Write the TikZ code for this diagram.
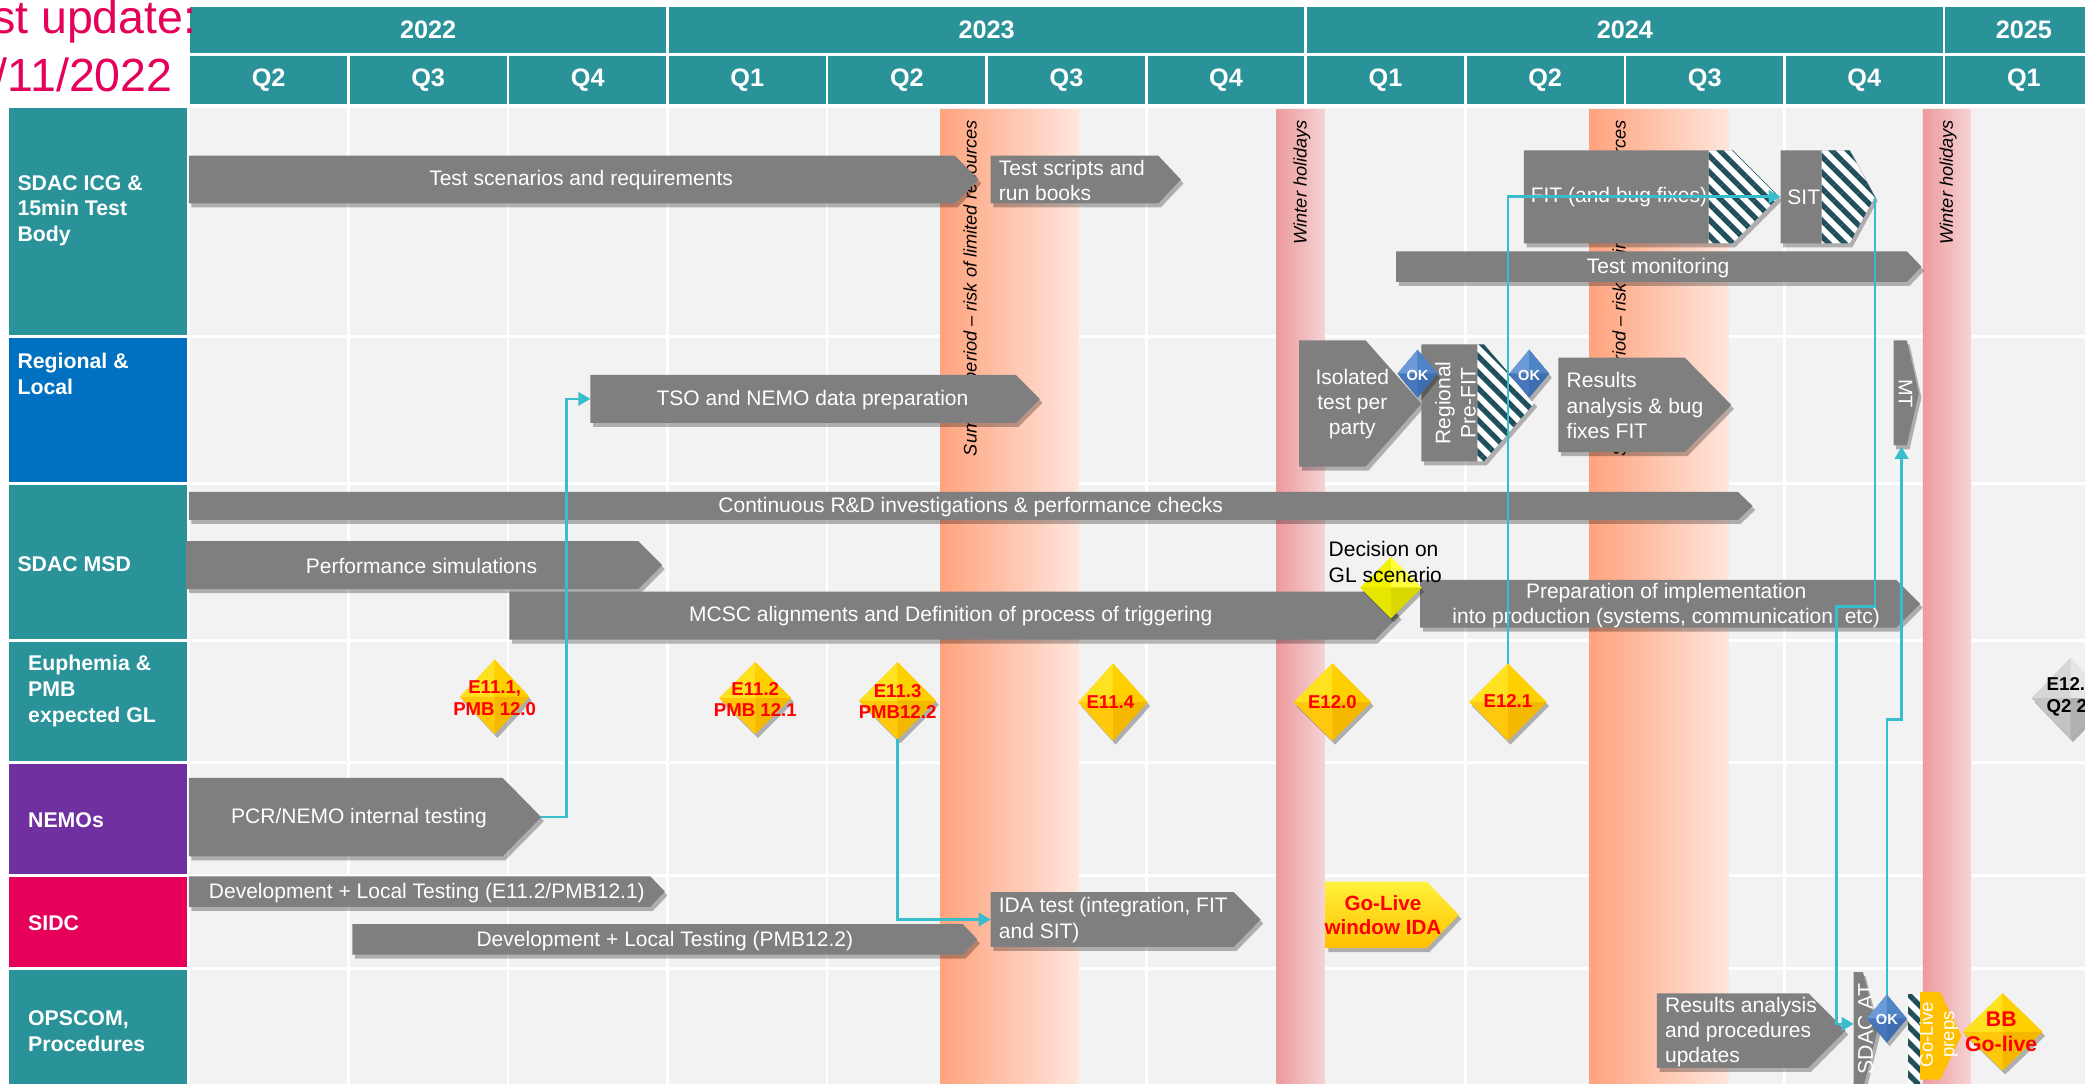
\documentclass[tikz,border=0pt]{standalone}
\usepackage{fontspec}
\setmainfont{Liberation Sans}
\usetikzlibrary{shadows,patterns.meta,arrows.meta}
\definecolor{hdrteal}{HTML}{2A9299}
\definecolor{regblue}{HTML}{0070C0}
\definecolor{nemopurple}{HTML}{7030A0}
\definecolor{sidcpink}{HTML}{E5005A}
\definecolor{titlepink}{HTML}{E5005A}
\definecolor{barg}{HTML}{7F7F7F}
\definecolor{cellg}{HTML}{F2F2F2}
\definecolor{cyanl}{HTML}{38BDCC}
\definecolor{hatchc}{HTML}{1E4F5B}
\definecolor{sumL}{HTML}{FFA37D}
\definecolor{sumR}{HTML}{FFE6DD}
\definecolor{winL}{HTML}{EC9A9D}
\definecolor{winR}{HTML}{F5D3D4}
\definecolor{goldTL}{HTML}{FFE21F}
\definecolor{goldTR}{HTML}{FFD000}
\definecolor{goldBR}{HTML}{F5B800}
\definecolor{goldBL}{HTML}{FFC80A}
\definecolor{blueTL}{HTML}{6A9BD8}
\definecolor{blueTR}{HTML}{4F84C6}
\definecolor{blueBR}{HTML}{3E6DB0}
\definecolor{blueBL}{HTML}{4777BA}
\definecolor{decTL}{HTML}{F2F200}
\definecolor{decTR}{HTML}{FFFF40}
\definecolor{decBR}{HTML}{D9D900}
\definecolor{decBL}{HTML}{E6E600}
\definecolor{grayTL}{HTML}{D6D6D6}
\definecolor{grayTR}{HTML}{E6E6E6}
\definecolor{grayBR}{HTML}{B0B0B0}
\definecolor{grayBL}{HTML}{C4C4C4}
\definecolor{glA}{HTML}{FFF23A}
\definecolor{glB}{HTML}{FFE000}
\definecolor{glC}{HTML}{FFC000}
\definecolor{prepsc}{HTML}{FFC000}

\tikzset{
  bshadow/.style={drop shadow={opacity=0.28,shadow xshift=2pt,shadow yshift=-3pt,fill=black}},
  barfill/.style={fill=barg,bshadow},
  bartext/.style={text=white,font=\fontsize{15.8}{19}\selectfont,inner sep=0pt},
  lbl/.style={text=white,font=\bfseries\fontsize{16}{19.5}\selectfont,align=left,inner sep=0pt,anchor=west},
  hdr/.style={text=white,font=\bfseries\fontsize{19}{22}\selectfont,inner sep=0pt},
  redtext/.style={text=red,font=\bfseries\fontsize{14}{16}\selectfont,align=center,inner sep=0pt},
  oktext/.style={text=white,font=\bfseries\fontsize{11}{12}\selectfont,inner sep=0pt},
  bandtext/.style={font=\itshape\fontsize{13.7}{15}\selectfont,inner sep=0pt,rotate=90,anchor=east},
  conn/.style={draw=cyanl,line width=2pt,-{Triangle[length=9pt,width=10pt]}},
  hatchfill/.style={preaction={fill=white},pattern={Lines[angle=-45,distance=8.5pt,line width=4pt]},pattern color=hatchc},
}

% bar: name, x1, xtip, y1, y2, tip length
\newcommand\gbar[6]{%
  \fill[barfill] (#2,#4) -- ({#3-#6},#4) -- (#3,{(#4+#5)/2}) -- ({#3-#6},#5) -- (#2,#5) -- cycle;
  \coordinate (#1-w) at (#2,{(#4+#5)/2});
  \coordinate (#1-e) at (#3,{(#4+#5)/2});}

% gem: name, cx, cy, hw, hh, colour prefix
\newcommand\gem[6]{%
  \fill[#6BL,bshadow] ({#2-#4},#3) -- (#2,{#3-#5}) -- ({#2+#4},#3) -- (#2,{#3+#5}) -- cycle;
  \fill[#6TL] (#2,#3) -- ({#2-#4},#3) -- (#2,{#3-#5}) -- cycle;
  \fill[#6TR] (#2,#3) -- (#2,{#3-#5}) -- ({#2+#4},#3) -- cycle;
  \fill[#6BR] (#2,#3) -- ({#2+#4},#3) -- (#2,{#3+#5}) -- cycle;
  \fill[#6BL] (#2,#3) -- (#2,{#3+#5}) -- ({#2-#4},#3) -- cycle;
  \coordinate (#1-n) at (#2,{#3-#5});
  \coordinate (#1-s) at (#2,{#3+#5});}

\begin{document}
\begin{tikzpicture}[x=1pt,y=-1pt]
\useasboundingbox (0,0) rectangle (1568,815.2);
\clip (0,0) rectangle (1568,815.2);
\fill[white] (0,0) rectangle (1568,815.2);

% ---------- header ----------
\fill[hdrteal] (143,5) rectangle (501,40);
\fill[hdrteal] (503,5) rectangle (981,40);
\fill[hdrteal] (983,5) rectangle (1461,40);
\fill[hdrteal] (1463,5) rectangle (1600,40);
\node[hdr] (y2022) at (322,22.5) {2022};
\node[hdr] (y2023) at (742,22.5) {2023};
\node[hdr] (y2024) at (1222,22.5) {2024};
\node[hdr] (y2025) at (1522,22.5) {2025};
\foreach \q [count=\i from 0] in {Q2,Q3,Q4,Q1,Q2,Q3,Q4,Q1,Q2,Q3,Q4,Q1}{
  \fill[hdrteal] ({143+120*\i},42) rectangle ({261+120*\i},78);
  \node[hdr] (q\i) at ({202+120*\i},60.5) {\q};
}

% ---------- row labels ----------
\fill[hdrteal] (7,81) rectangle (141,252);
\fill[regblue] (7,254) rectangle (141,362.5);
\fill[hdrteal] (7,364.5) rectangle (141,480.5);
\fill[hdrteal] (7,482.5) rectangle (141,572.5);
\fill[nemopurple] (7,574.5) rectangle (141,657.5);
\fill[sidcpink] (7,659.5) rectangle (141,727.5);
\fill[hdrteal] (7,729.5) rectangle (141,815.2);
\node[lbl] (lab1) at (13,158.5) {SDAC ICG \&\\15min Test\\Body};
\node[lbl] (lab2) at (13,281.5) {Regional \&\\Local};
\node[lbl] (lab3) at (13,424) {SDAC MSD};
\node[lbl] (lab4) at (21,519.5) {Euphemia \&\\PMB\\expected GL};
\node[lbl] (lab5) at (21,617) {NEMOs};
\node[lbl] (lab6) at (21,694) {SIDC};
\node[lbl] (lab7) at (21,775.5) {OPSCOM,\\Procedures};

% ---------- grid ----------
\fill[cellg] (143,81) rectangle (1600,815.2);
\foreach \k in {0,...,10}{
  \draw[white,line width=2pt] ({262+120*\k},81) -- ({262+120*\k},815.2);
}
\foreach \yy in {253,363.5,481.5,573.5,658.5,728.5}{
  \draw[white,line width=2pt] (143,\yy) -- (1600,\yy);
}

% ---------- bands ----------
\shade[left color=sumL,right color=sumR] (707,82) rectangle (811,815.2);
\shade[left color=winL,right color=winR] (960,82) rectangle (996,815.2);
\shade[left color=sumL,right color=sumR] (1195,82) rectangle (1300,815.2);
\shade[left color=winL,right color=winR] (1446,82) rectangle (1482,815.2);
\node[bandtext] (sum1) at (731,90) {Summer period – risk of limited resources};
\node[bandtext] (win1) at (979,90) {Winter holidays};
\node[bandtext] (sum2) at (1219,90) {Summer period – risk of limited resources};
\node[bandtext] (win2) at (1465,90) {Winter holidays};

% ---------- row 1 ----------
\gbar{tsr}{142}{736}{117}{153}{18}
\node[bartext] (t-tsr) at (437,135.5) {Test scenarios and requirements};
\gbar{tsb}{745}{888}{117}{153}{17}
\node[bartext,anchor=west,align=left] (t-tsb) at (751,136) {Test scripts and\\run books};
\fill[barfill] (1146,113) -- (1303,113) -- (1338,148) -- (1303,183) -- (1146,183) -- cycle;
\fill[hatchfill] (1285,113) -- (1303,113) -- (1338,148) -- (1303,183) -- (1285,183) -- cycle;
\node[bartext,anchor=west] (t-fit) at (1151,148.5) {FIT (and bug fixes)};
\fill[barfill] (1339,113) -- (1391,113) -- (1410,148) -- (1391,183) -- (1339,183) -- cycle;
\fill[hatchfill] (1370,113) -- (1391,113) -- (1410,148) -- (1391,183) -- (1370,183) -- cycle;
\coordinate (sit-w) at (1339,148);
\coordinate (sit-e) at (1410,148);
\node[bartext,anchor=west] (t-sit) at (1344,148) {SIT};
\gbar{tmon}{1050}{1445}{189}{212}{11}
\node[bartext] (t-tmon) at (1247,201.5) {Test monitoring};

% ---------- row 2 ----------
\gbar{tso}{444}{782}{282}{318}{18}
\node[bartext] (t-tso) at (611,300.5) {TSO and NEMO data preparation};
\gbar{iso}{977}{1069}{256}{351}{42}
\node[bartext,align=center] (t-iso) at (1017,304) {Isolated\\test per\\party};
\fill[barfill] (1069,259) -- (1116,259) -- (1154,303) -- (1116,347) -- (1069,347) -- cycle;
\fill[hatchfill] (1111,259) -- (1116,259) -- (1154,303) -- (1116,347) -- (1111,347) -- cycle;
\node[bartext,rotate=90,align=center] (t-reg) at (1094.5,303) {Regional\\Pre-FIT};
\gbar{res}{1172}{1302}{269}{340}{35}
\node[bartext,anchor=west,align=left] (t-res) at (1178,305) {Results\\analysis \& bug\\fixes FIT};
\fill[barfill] (1424,256) -- (1434,256) -- (1443,296) -- (1434,335) -- (1424,335) -- cycle;
\coordinate (mt-s) at (1430,336);
\node[bartext,rotate=-90,font=\fontsize{15}{17}\selectfont] (t-mt) at (1433,296) {MT};

% ---------- row 3 ----------
\gbar{cont}{142}{1318}{370}{391}{11}
\node[bartext] (t-cont) at (730,381.5) {Continuous R\&D investigations \& performance checks};
\gbar{perf}{140}{498}{407}{443}{18}
\node[bartext] (t-perf) at (317,425.5) {Performance simulations};
\gbar{mcsc}{383}{1052}{445}{481}{18}
\node[bartext] (t-mcsc) at (715,463.5) {MCSC alignments and Definition of process of triggering};
\gbar{prep}{1068}{1444}{436}{472}{18}
\node[bartext,align=center] (t-prep) at (1253,455.5) {Preparation of implementation\\into production (systems, communication, etc)};

% ---------- row 5 ----------
\gbar{pcr}{142}{407}{585}{644}{29}
\node[bartext] (t-pcr) at (270,615.5) {PCR/NEMO internal testing};

% ---------- row 6 ----------
\gbar{dev1}{142}{500}{659}{682}{11}
\node[bartext] (t-dev1) at (321,671.5) {Development + Local Testing (E11.2/PMB12.1)};
\gbar{dev2}{265}{735}{695}{718}{11}
\node[bartext] (t-dev2) at (500,707.5) {Development + Local Testing (PMB12.2)};
\gbar{ida}{745}{948}{671}{712}{20}
\node[bartext,anchor=west,align=left] (t-ida) at (751,692) {IDA test (integration, FIT\\and SIT)};
\shade[bshadow,top color=glA,middle color=glB,bottom color=glC] (997,663) -- (1073,663) -- (1097,688) -- (1073,713) -- (997,713) -- cycle;
\node[redtext,font=\bfseries\fontsize{15.5}{18}\selectfont] (t-glida) at (1040,688) {Go-Live\\window IDA};

% ---------- row 7 ----------
\gbar{rproc}{1246}{1388}{747}{803}{28}
\node[bartext,anchor=west,align=left] (t-rproc) at (1252,776) {Results analysis\\and procedures\\updates};
\fill[barfill] (1394,731) -- (1401,731) -- (1412,775) -- (1401,819) -- (1394,819) -- cycle;
\coordinate (sdacat-w) at (1394,770);
\node[bartext,rotate=90,font=\fontsize{16}{18}\selectfont] (t-sdacat) at (1403,774) {SDAC AT};
\fill[hatchfill] (1435,748) rectangle (1444,816);
\fill[prepsc] (1444,746) -- (1459,746) -- (1475,779) -- (1459,812) -- (1444,812) -- cycle;
\node[bartext,rotate=90,align=center,font=\fontsize{14}{16}\selectfont] (t-preps) at (1458,778) {Go-Live\\preps};

% ---------- diamonds ----------
\gem{ok1}{1066}{281}{15}{18}{blue}
\node[oktext] (t-ok1) at (1066,282) {OK};
\gem{ok2}{1150}{281}{15}{18}{blue}
\node[oktext] (t-ok2) at (1150,282) {OK};
\gem{ok3}{1419}{766}{15}{18}{blue}
\node[oktext] (t-ok3) at (1419,767) {OK};
\gem{dec}{1046}{442}{23}{23}{dec}
\node[font=\fontsize{15.8}{19.5}\selectfont,anchor=west,align=left,inner sep=0pt] (t-dec) at (999,422.5) {Decision on\\GL scenario};
\gem{e111}{372}{524}{26}{28}{gold}
\node[redtext] (t-e111) at (372,525) {E11.1,\\PMB 12.0};
\gem{e112}{568}{525}{27}{27}{gold}
\node[redtext] (t-e112) at (568,526) {E11.2\\PMB 12.1};
\gem{e113}{675}{527}{29}{29}{gold}
\node[redtext] (t-e113) at (675,527.5) {E11.3\\PMB12.2};
\gem{e114}{837}{528}{26}{29}{gold}
\node[redtext] (t-e114) at (835,528) {E11.4};
\gem{e120}{1002}{528}{29}{29}{gold}
\node[redtext] (t-e120) at (1002,528) {E12.0};
\gem{e121}{1134}{528}{29}{29}{gold}
\node[redtext] (t-e121) at (1134,527) {E12.1};
\gem{egr}{1557}{525}{29}{30}{gray}
\node[redtext,text=black,anchor=west,align=left] (t-egr) at (1539,524) {E12.\\Q2 2};
\gem{bb}{1506}{776}{30}{29}{gold}
\node[redtext,font=\bfseries\fontsize{16}{19}\selectfont] (t-bb) at (1505,776) {BB\\Go-live};

% ---------- connectors ----------
\draw[conn] (pcr-e) -- ++(19,0) |- (tso-w);
\draw[conn] (e113-s) |- (ida-w);
\draw[conn] (e121-n) |- (sit-w);
\draw[conn] (sit-e) -- ++(0,308) -- ++(-29,0) |- (sdacat-w);
\draw[conn] (ok3-n) -- ++(0,-207) -| (mt-s);

% ---------- title ----------
\node[anchor=base east,text=titlepink,font=\fontsize{35}{40}\selectfont,inner sep=0pt] (title1) at (148,25) {st update:};
\node[anchor=base east,text=titlepink,font=\fontsize{35}{40}\selectfont,inner sep=0pt] (title2) at (130,69) {/11/2022};
\end{tikzpicture}
\end{document}
